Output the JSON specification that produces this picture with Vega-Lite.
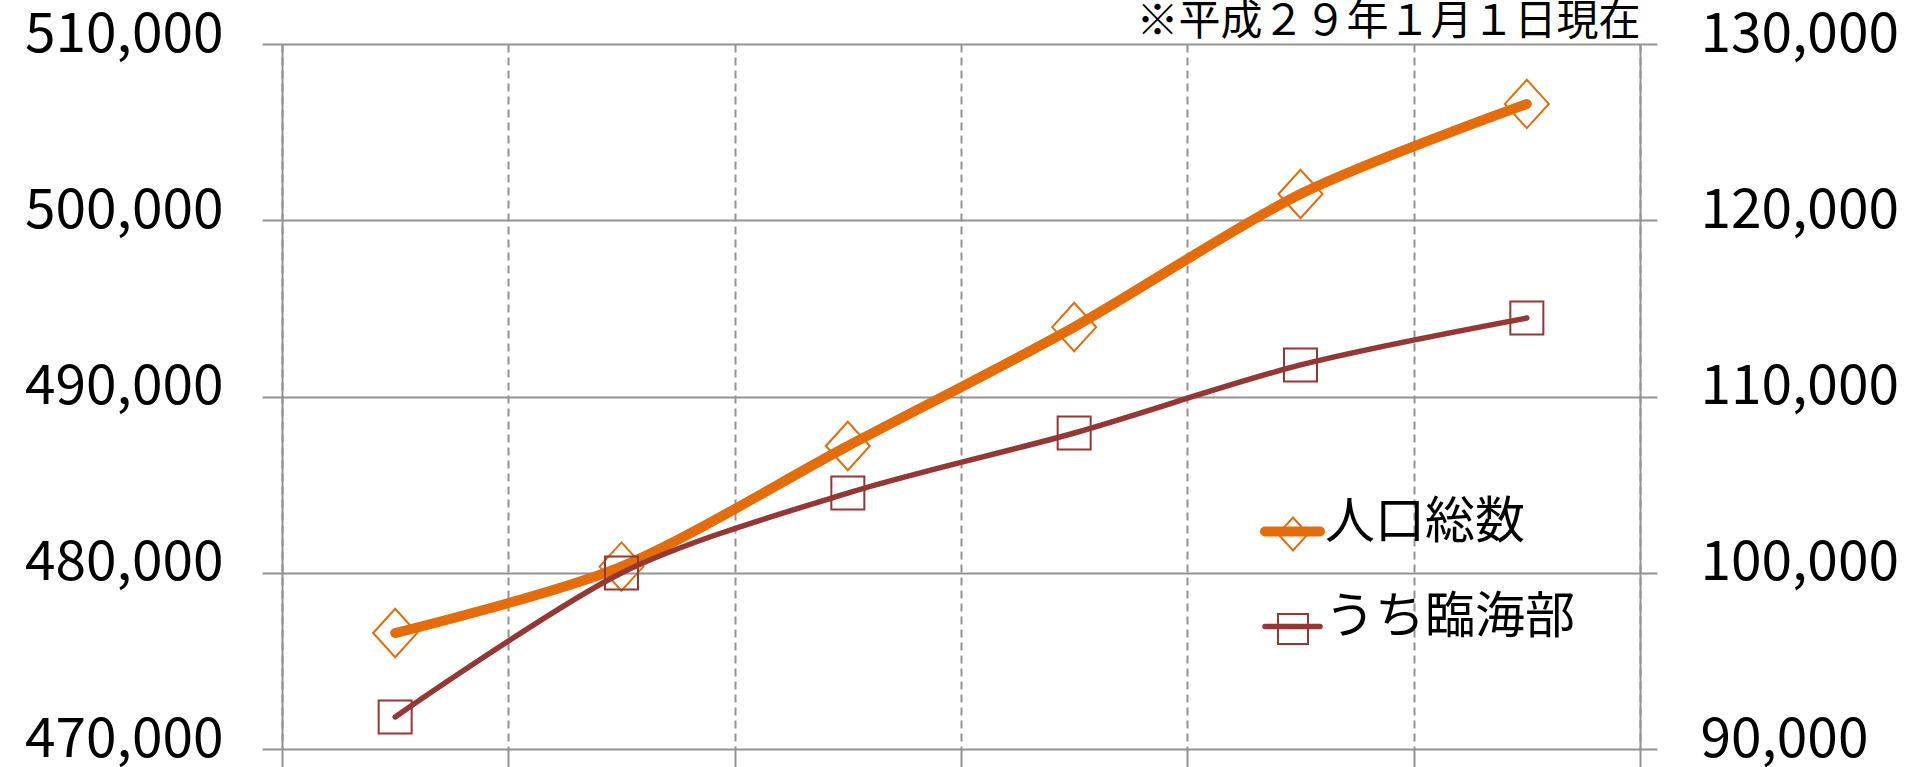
{
"$schema": "https://vega.github.io/schema/vega-lite/v6.json",
"width": 1358,
"height": 705,
"autosize": {"type": "none"},
"padding": {"left": 282, "top": 44, "right": 269, "bottom": 18},
"background": "white",
"config": {
  "view": {"stroke": null},
  "axis": {"labelFont": "Noto Sans CJK JP", "labelColor": "#000000", "labelLimit": 400, "tickColor": "#939393", "domainColor": "#939393", "gridColor": "#939393", "tickWidth": 2, "domainWidth": 2, "gridWidth": 2, "gridOpacity": 1, "title": null}
},
"data": {"values": [
  {"n": 1, "series": "人口総数", "value": 476580},
  {"n": 2, "series": "人口総数", "value": 480350},
  {"n": 3, "series": "人口総数", "value": 487190},
  {"n": 4, "series": "人口総数", "value": 493940},
  {"n": 5, "series": "人口総数", "value": 501490},
  {"n": 6, "series": "人口総数", "value": 506600},
  {"n": 1, "series": "うち臨海部", "value": 91820},
  {"n": 2, "series": "うち臨海部", "value": 99990},
  {"n": 3, "series": "うち臨海部", "value": 104520},
  {"n": 4, "series": "うち臨海部", "value": 107930},
  {"n": 5, "series": "うち臨海部", "value": 111790},
  {"n": 6, "series": "うち臨海部", "value": 114450}
]},
"encoding": {
  "x": {"field": "n", "type": "quantitative", "scale": {"domain": [0.5, 6.5], "nice": false, "zero": false},
        "axis": {"values": [0.5, 1.5, 2.5, 3.5, 4.5, 5.5, 6.5], "labels": false, "ticks": true, "tickSize": 18, "domain": false, "grid": true, "gridDash": [8, 5], "title": null}}
},
"layer": [
  {
    "transform": [{"filter": "datum.series === '人口総数'"}],
    "encoding": {
      "y": {"field": "value", "type": "quantitative", "scale": {"domain": [470000, 510000], "nice": false, "zero": false},
            "axis": {"orient": "left", "values": [470000, 480000, 490000, 500000, 510000], "format": ",d", "labelFontSize": 55, "tickSize": 20, "labelPadding": 39, "labelOffset": -10, "grid": true, "domain": true,
                     "title": "※平成２９年１月１日現在", "titleAngle": 0, "titleX": 1358, "titleY": -10, "titleAlign": "right", "titleBaseline": "alphabetic", "titleFontSize": 42, "titleFont": "Noto Sans CJK JP", "titleFontWeight": "normal", "titleColor": "#000000"}}
    },
    "layer": [
      {"mark": {"type": "line", "interpolate": "cardinal", "tension": 0.15, "strokeCap": "round", "strokeJoin": "round"},
       "encoding": {
         "color": {"field": "series", "type": "nominal", "scale": {"domain": ["人口総数", "うち臨海部"], "range": ["#E46C0A", "#953735"]},
                   "legend": {"orient": "none", "legendX": 978, "legendY": 455, "title": null, "symbolType": "stroke", "symbolSize": 3025, "labelFontSize": 50, "labelFont": "Noto Sans CJK JP", "labelColor": "#000000", "padding": 0, "rowPadding": 40, "labelOffset": 0, "labelLimit": 400,
                              "encode": {"symbols": {"update": {"strokeCap": {"value": "round"}}}, "labels": {"update": {"dy": {"value": -9}}}}}},
         "strokeWidth": {"field": "series", "type": "nominal", "scale": {"domain": ["人口総数", "うち臨海部"], "range": [10, 5.5]}}
       }},
      {"mark": {"type": "point", "filled": false, "size": 1936, "strokeWidth": 2, "opacity": 1},
       "encoding": {
         "shape": {"field": "series", "type": "nominal", "sort": "descending", "scale": {"range": ["M-1,0L0,-1.1L1,0L0,1.1Z", "square"]},
                   "legend": {"orient": "none", "legendX": 986, "legendY": 465, "title": null, "symbolSize": 900, "symbolStrokeWidth": 2, "labelFontSize": 50, "labelFont": "Noto Sans CJK JP", "labelOpacity": 0, "padding": 0, "rowPadding": 45,
                              "encode": {"symbols": {"update": {"shape": {"signal": "datum.value === '人口総数' ? 'M-0.66,0L0,-1L0.66,0L0,1Z' : 'M-1,-0.97H1V0.97H-1Z'"}}}}}},
         "stroke": {"field": "series", "type": "nominal", "sort": "descending", "scale": {"range": ["#E46C0A", "#953735"]}}
       }}
    ]
  },
  {
    "transform": [{"filter": "datum.series === 'うち臨海部'"}],
    "encoding": {
      "y": {"field": "value", "type": "quantitative", "scale": {"domain": [90000, 130000], "nice": false, "zero": false},
            "axis": {"orient": "right", "values": [90000, 100000, 110000, 120000, 130000], "format": ",d", "labelFontSize": 55, "tickSize": 17, "labelPadding": 43, "labelOffset": -10, "grid": false, "domain": true, "title": null}}
    },
    "layer": [
      {"mark": {"type": "line", "interpolate": "cardinal", "tension": 0.15, "strokeCap": "round", "strokeJoin": "round"},
       "encoding": {
         "color": {"field": "series", "type": "nominal", "scale": {"domain": ["人口総数", "うち臨海部"], "range": ["#E46C0A", "#953735"]}},
         "strokeWidth": {"field": "series", "type": "nominal", "scale": {"domain": ["人口総数", "うち臨海部"], "range": [10, 5.5]}}
       }},
      {"mark": {"type": "point", "filled": false, "size": 1089, "strokeWidth": 2, "opacity": 1},
       "encoding": {
         "shape": {"field": "series", "type": "nominal", "sort": "descending", "scale": {"range": ["M-1,0L0,-1.1L1,0L0,1.1Z", "square"]}},
         "stroke": {"field": "series", "type": "nominal", "sort": "descending", "scale": {"range": ["#E46C0A", "#953735"]}}
       }}
    ]
  }
],
"resolve": {"scale": {"y": "independent"}}
}
